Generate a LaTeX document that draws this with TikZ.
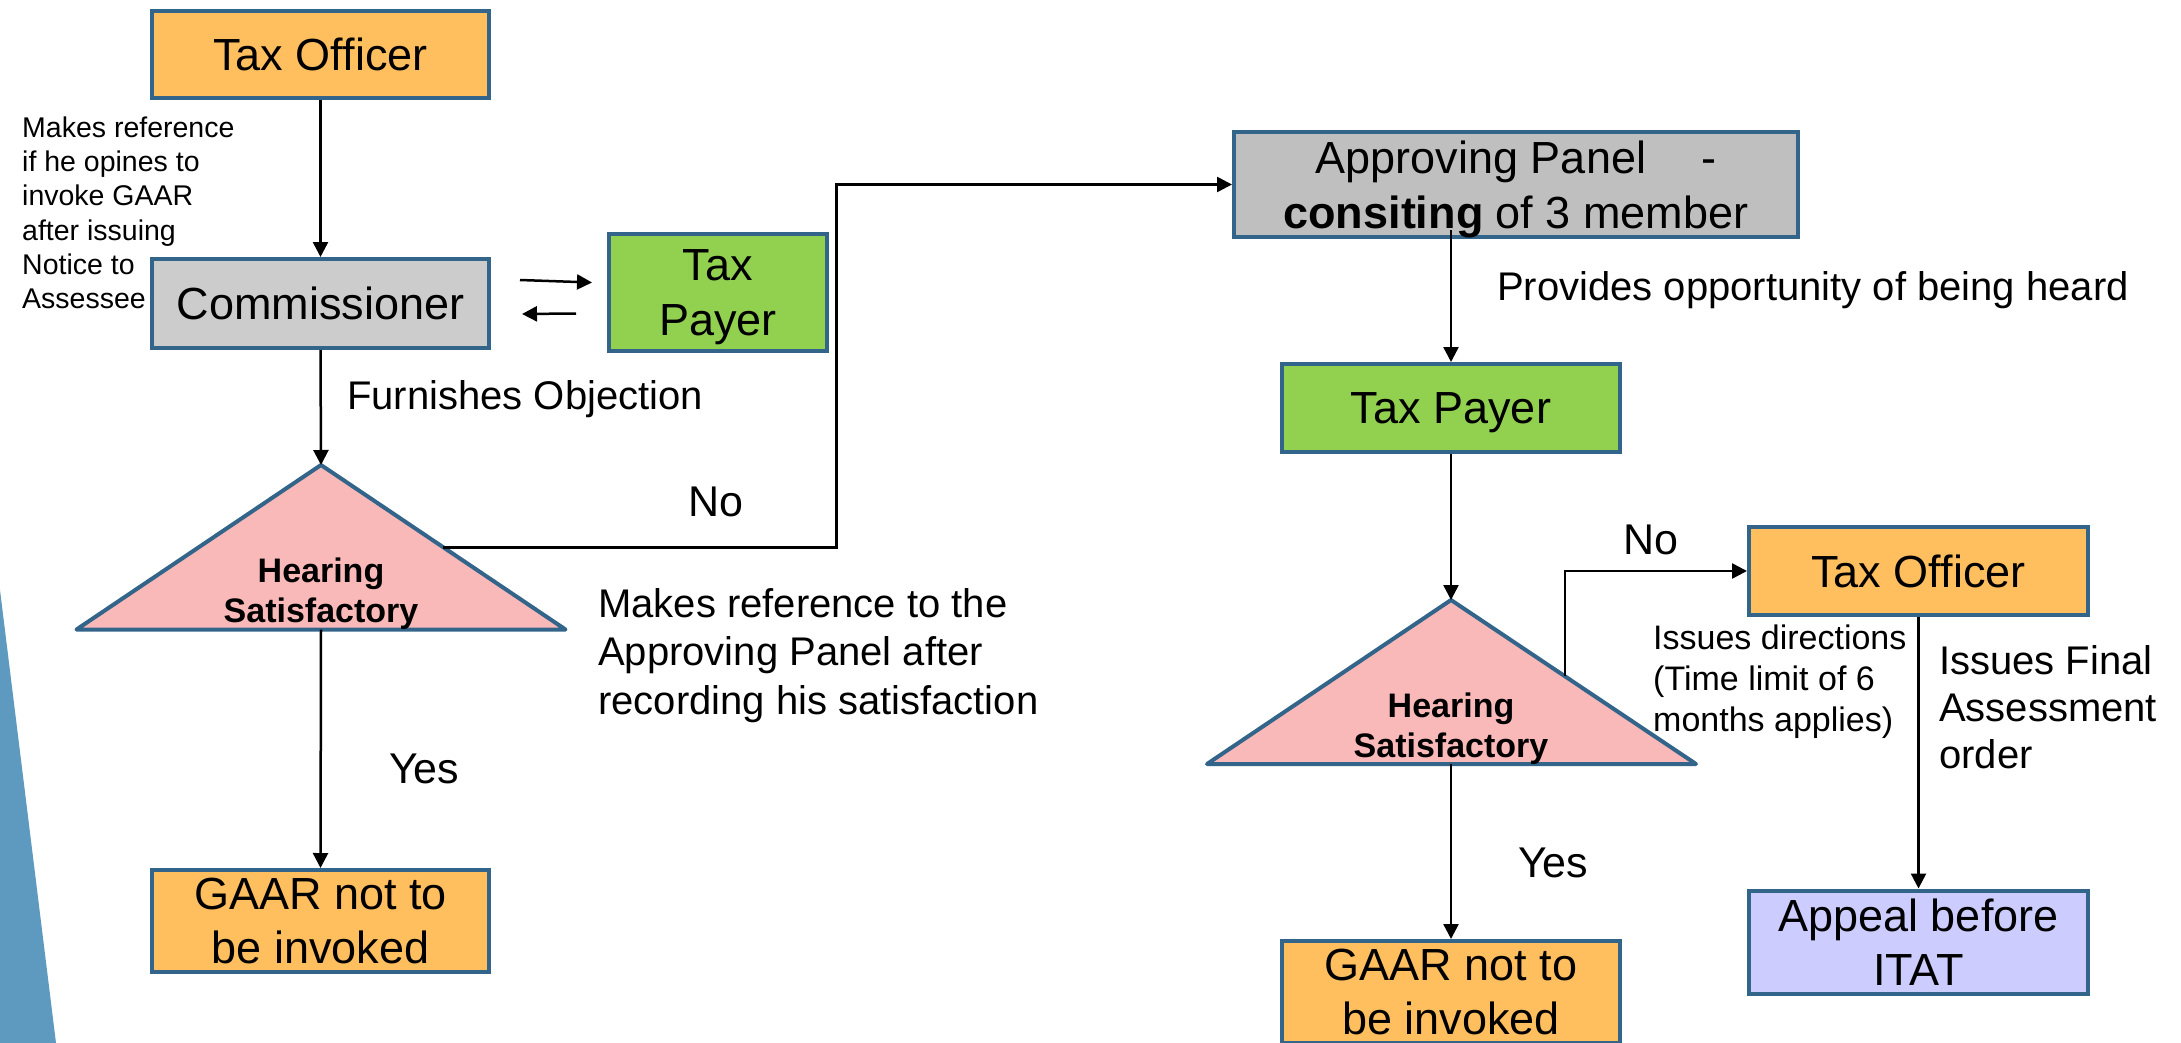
\documentclass[tikz,border=0pt]{standalone}
\usepackage{fontspec}
\setmainfont{Liberation Sans}
\usetikzlibrary{arrows.meta,calc}
\definecolor{bord}{HTML}{33658A}
\definecolor{org}{HTML}{FFBF5F}
\definecolor{gry}{HTML}{CCCCCC}
\definecolor{gryd}{HTML}{BFBFBF}
\definecolor{grn}{HTML}{92D050}
\definecolor{pnk}{HTML}{FAB9B9}
\definecolor{lav}{HTML}{CCCCFF}
\definecolor{side}{HTML}{5E9ABF}
\begin{document}
\begin{tikzpicture}[x=1pt,y=-1pt,
  box/.style={draw=bord,line width=4pt,inner sep=0pt,align=center,font=\fontsize{45}{54.5}\selectfont},
  arr/.style={draw=black,line width=2.5pt,-{Triangle[length=15pt,width=15pt]}},
  tri/.style={draw=bord,line width=4pt,fill=pnk,line join=round},
  lbl/.style={inner sep=0pt,font=\fontsize{40}{48.5}\selectfont,align=left},
  small/.style={inner sep=0pt,font=\fontsize{28.5}{34.3}\selectfont,align=left},
  mid/.style={inner sep=0pt,font=\fontsize{34}{41}\selectfont,align=left},
  hear/.style={inner sep=0pt,font=\fontsize{34}{40}\selectfont\bfseries,align=center},
  yn/.style={inner sep=0pt,font=\fontsize{43}{50}\selectfont},
]
\useasboundingbox (0,0) rectangle (2181,1043);
\fill[side] (0,590) -- (56,1043) -- (0,1043) -- cycle;

% ---------- left column ----------
\node[box,fill=org,minimum width=337pt,minimum height=87pt] (to1) at (320.5,54.5) {Tax Officer};
\node[box,fill=gry,minimum width=337pt,minimum height=89pt] (comm) at (320.5,303.5) {Commissioner};
\node[box,fill=grn,minimum width=218pt,minimum height=117pt,text depth=0pt] (tp1) at (718,292.5) {Tax\\Payer};
\node[box,fill=org,minimum width=337pt,minimum height=102pt] (g1) at (320.5,921) {GAAR not to\\be invoked};

\coordinate (t1a) at (321,465);
\coordinate (t1l) at (76.5,629.5);
\coordinate (t1r) at (565.5,629.5);
\coordinate (t1b) at (321,629.5);
\path[tri] (t1a) -- (t1r) -- (t1l) -- cycle;
\node[hear,anchor=north] (t1) at (321,557.5) {Hearing\\Satisfactory};
\coordinate (t1m) at ($(t1a)!0.5!(t1r)$);

\node[small,anchor=north west] (note1) at (22,116.5) {Makes reference\\if he opines to\\invoke GAAR\\after issuing\\Notice to\\Assessee};
\node[lbl,anchor=base west] (furn) at (347,409) {Furnishes Objection};
\node[yn,anchor=base west] (no1) at (688,516) {No};
\node[yn,anchor=base west] (yes1) at (389,783) {Yes};
\node[lbl,anchor=north west] (mref) at (598,588) {Makes reference to the\\Approving Panel after\\recording his satisfaction};

\coordinate (ra1) at (520,280);
\coordinate (ra2) at (592,282.5);
\coordinate (la1) at (576,313.5);
\coordinate (la2) at (522,314);
\draw[arr] (ra1) -- (ra2);
\draw[arr] (la1) -- (la2);

\draw[arr] (to1.south) -- (comm.north);
\draw[arr] (comm.south) -- (t1a);
\draw[arr] (t1b) -- (g1.north);

% ---------- right column ----------
\node[box,fill=gryd,minimum width=564pt,minimum height=105pt,text depth=0pt] (ap) at (1516,184.5) {Approving Panel\hspace{55pt}-\\\textbf{consiting} of 3 member};
\node[box,fill=grn,minimum width=338pt,minimum height=88pt,text depth=0pt] (tp2) at (1451,408) {Tax Payer};
\node[box,fill=org,minimum width=339pt,minimum height=88pt] (to2) at (1918.5,571) {Tax Officer};
\node[box,fill=lav,minimum width=339pt,minimum height=103pt] (itat) at (1918.5,942) {Appeal before\\ITAT};
\node[box,fill=org,minimum width=338pt,minimum height=102pt] (g2) at (1451,992) {GAAR not to\\be invoked};

\coordinate (t2a) at (1451,600);
\coordinate (t2l) at (1207,764);
\coordinate (t2r) at (1696,764);
\coordinate (t2b) at (1451,764);
\path[tri] (t2a) -- (t2r) -- (t2l) -- cycle;
\node[hear,anchor=north] (t2) at (1451,692.5) {Hearing\\Satisfactory};
\coordinate (t2m) at ($(t2a)!0.466!(t2r)$);

\node[lbl,anchor=base west] (prov) at (1497,300) {Provides opportunity of being heard};
\node[yn,anchor=base west] (no2) at (1623,554) {No};
\node[yn,anchor=base west] (yes2) at (1518,877) {Yes};
\node[mid,anchor=north west] (dirs) at (1653,624.5) {Issues directions\\(Time limit of 6\\months applies)};
\node[lbl,anchor=north west,font=\fontsize{40}{47}\selectfont] (fin) at (1939,645) {Issues Final\\Assessment\\order};

\draw[arr] (t1m) -- ++(393,0) |- (ap.west);
\draw[arr] ([yshift=9pt]ap.south -| tp2.north) -- (tp2.north);
\draw[arr] (tp2.south) -- (t2a);
\draw[arr] (t2b) -- (g2.north);
\draw[arr] (t2m) |- (to2.west);
\draw[arr] (to2.south) -- (itat.north);
\end{tikzpicture}
\end{document}
